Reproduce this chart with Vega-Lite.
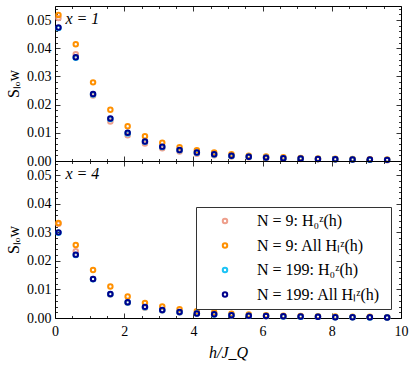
{
"$schema": "https://vega.github.io/schema/vega-lite/v6.json",
"padding": {"left": 5, "top": 5, "right": 5, "bottom": 5},
"spacing": 0,
"bounds": "flush",
"config": {
  "view": {"stroke": "black", "strokeWidth": 1},
  "font": "Liberation Serif",
  "axis": {"grid": false, "domain": false, "tickColor": "black", "tickWidth": 0.8, "labelColor": "black", "labelFont": "Liberation Serif", "labelFontSize": 14, "titleFont": "Liberation Serif", "titleFontWeight": "normal", "titleFontSize": 16, "titleColor": "black", "labelOverlap": false, "labelBound": false, "labelFlush": false}
},
"datasets": {
  "top": [
    {"series": "N = 9:  H₀ᶻ(h)", "h": 0.1, "S": 0.0507}, {"series": "N = 9:  H₀ᶻ(h)", "h": 0.6, "S": 0.0379}, {"series": "N = 9:  H₀ᶻ(h)", "h": 1.1, "S": 0.0232}, {"series": "N = 9:  H₀ᶻ(h)", "h": 1.6, "S": 0.0140}, {"series": "N = 9:  H₀ᶻ(h)", "h": 2.1, "S": 0.0091}, {"series": "N = 9:  H₀ᶻ(h)", "h": 2.6, "S": 0.0062}, {"series": "N = 9:  H₀ᶻ(h)", "h": 3.1, "S": 0.0045}, {"series": "N = 9:  H₀ᶻ(h)", "h": 3.6, "S": 0.0034}, {"series": "N = 9:  H₀ᶻ(h)", "h": 4.1, "S": 0.0026}, {"series": "N = 9:  H₀ᶻ(h)", "h": 4.6, "S": 0.0020},
    {"series": "N = 9:  H₀ᶻ(h)", "h": 5.1, "S": 0.0016}, {"series": "N = 9:  H₀ᶻ(h)", "h": 5.6, "S": 0.0013}, {"series": "N = 9:  H₀ᶻ(h)", "h": 6.1, "S": 0.0010}, {"series": "N = 9:  H₀ᶻ(h)", "h": 6.6, "S": 0.0008}, {"series": "N = 9:  H₀ᶻ(h)", "h": 7.1, "S": 0.0007}, {"series": "N = 9:  H₀ᶻ(h)", "h": 7.6, "S": 0.0006}, {"series": "N = 9:  H₀ᶻ(h)", "h": 8.1, "S": 0.0005}, {"series": "N = 9:  H₀ᶻ(h)", "h": 8.6, "S": 0.0004}, {"series": "N = 9:  H₀ᶻ(h)", "h": 9.1, "S": 0.0004}, {"series": "N = 9:  H₀ᶻ(h)", "h": 9.6, "S": 0.0003},
    {"series": "N = 9:  All Hₗᶻ(h)", "h": 0.1, "S": 0.0518}, {"series": "N = 9:  All Hₗᶻ(h)", "h": 0.6, "S": 0.0414}, {"series": "N = 9:  All Hₗᶻ(h)", "h": 1.1, "S": 0.0279}, {"series": "N = 9:  All Hₗᶻ(h)", "h": 1.6, "S": 0.0182}, {"series": "N = 9:  All Hₗᶻ(h)", "h": 2.1, "S": 0.0123}, {"series": "N = 9:  All Hₗᶻ(h)", "h": 2.6, "S": 0.0088}, {"series": "N = 9:  All Hₗᶻ(h)", "h": 3.1, "S": 0.0065}, {"series": "N = 9:  All Hₗᶻ(h)", "h": 3.6, "S": 0.0049}, {"series": "N = 9:  All Hₗᶻ(h)", "h": 4.1, "S": 0.0038}, {"series": "N = 9:  All Hₗᶻ(h)", "h": 4.6, "S": 0.0030},
    {"series": "N = 9:  All Hₗᶻ(h)", "h": 5.1, "S": 0.0024}, {"series": "N = 9:  All Hₗᶻ(h)", "h": 5.6, "S": 0.0019}, {"series": "N = 9:  All Hₗᶻ(h)", "h": 6.1, "S": 0.0016}, {"series": "N = 9:  All Hₗᶻ(h)", "h": 6.6, "S": 0.0013}, {"series": "N = 9:  All Hₗᶻ(h)", "h": 7.1, "S": 0.0011}, {"series": "N = 9:  All Hₗᶻ(h)", "h": 7.6, "S": 0.0009}, {"series": "N = 9:  All Hₗᶻ(h)", "h": 8.1, "S": 0.0008}, {"series": "N = 9:  All Hₗᶻ(h)", "h": 8.6, "S": 0.0007}, {"series": "N = 9:  All Hₗᶻ(h)", "h": 9.1, "S": 0.0006}, {"series": "N = 9:  All Hₗᶻ(h)", "h": 9.6, "S": 0.0005},
    {"series": "N = 199:  H₀ᶻ(h)", "h": 0.1, "S": 0.0472}, {"series": "N = 199:  H₀ᶻ(h)", "h": 0.6, "S": 0.0366}, {"series": "N = 199:  H₀ᶻ(h)", "h": 1.1, "S": 0.0236}, {"series": "N = 199:  H₀ᶻ(h)", "h": 1.6, "S": 0.0149}, {"series": "N = 199:  H₀ᶻ(h)", "h": 2.1, "S": 0.0098}, {"series": "N = 199:  H₀ᶻ(h)", "h": 2.6, "S": 0.0068}, {"series": "N = 199:  H₀ᶻ(h)", "h": 3.1, "S": 0.0050}, {"series": "N = 199:  H₀ᶻ(h)", "h": 3.6, "S": 0.0038}, {"series": "N = 199:  H₀ᶻ(h)", "h": 4.1, "S": 0.0029}, {"series": "N = 199:  H₀ᶻ(h)", "h": 4.6, "S": 0.0023},
    {"series": "N = 199:  H₀ᶻ(h)", "h": 5.1, "S": 0.0018}, {"series": "N = 199:  H₀ᶻ(h)", "h": 5.6, "S": 0.0015}, {"series": "N = 199:  H₀ᶻ(h)", "h": 6.1, "S": 0.0012}, {"series": "N = 199:  H₀ᶻ(h)", "h": 6.6, "S": 0.0010}, {"series": "N = 199:  H₀ᶻ(h)", "h": 7.1, "S": 0.0008}, {"series": "N = 199:  H₀ᶻ(h)", "h": 7.6, "S": 0.0007}, {"series": "N = 199:  H₀ᶻ(h)", "h": 8.1, "S": 0.0006}, {"series": "N = 199:  H₀ᶻ(h)", "h": 8.6, "S": 0.0005}, {"series": "N = 199:  H₀ᶻ(h)", "h": 9.1, "S": 0.0004}, {"series": "N = 199:  H₀ᶻ(h)", "h": 9.6, "S": 0.0004},
    {"series": "N = 199:  All Hₗᶻ(h)", "h": 0.1, "S": 0.0474}, {"series": "N = 199:  All Hₗᶻ(h)", "h": 0.6, "S": 0.0368}, {"series": "N = 199:  All Hₗᶻ(h)", "h": 1.1, "S": 0.0238}, {"series": "N = 199:  All Hₗᶻ(h)", "h": 1.6, "S": 0.0151}, {"series": "N = 199:  All Hₗᶻ(h)", "h": 2.1, "S": 0.0100}, {"series": "N = 199:  All Hₗᶻ(h)", "h": 2.6, "S": 0.0069}, {"series": "N = 199:  All Hₗᶻ(h)", "h": 3.1, "S": 0.0051}, {"series": "N = 199:  All Hₗᶻ(h)", "h": 3.6, "S": 0.0039}, {"series": "N = 199:  All Hₗᶻ(h)", "h": 4.1, "S": 0.0030}, {"series": "N = 199:  All Hₗᶻ(h)", "h": 4.6, "S": 0.0024},
    {"series": "N = 199:  All Hₗᶻ(h)", "h": 5.1, "S": 0.0019}, {"series": "N = 199:  All Hₗᶻ(h)", "h": 5.6, "S": 0.0015}, {"series": "N = 199:  All Hₗᶻ(h)", "h": 6.1, "S": 0.0012}, {"series": "N = 199:  All Hₗᶻ(h)", "h": 6.6, "S": 0.0010}, {"series": "N = 199:  All Hₗᶻ(h)", "h": 7.1, "S": 0.0009}, {"series": "N = 199:  All Hₗᶻ(h)", "h": 7.6, "S": 0.0007}, {"series": "N = 199:  All Hₗᶻ(h)", "h": 8.1, "S": 0.0006}, {"series": "N = 199:  All Hₗᶻ(h)", "h": 8.6, "S": 0.0005}, {"series": "N = 199:  All Hₗᶻ(h)", "h": 9.1, "S": 0.0005}, {"series": "N = 199:  All Hₗᶻ(h)", "h": 9.6, "S": 0.0004}
  ],
  "bottom": [
    {"series": "N = 9:  H₀ᶻ(h)", "h": 0.1, "S": 0.0330}, {"series": "N = 9:  H₀ᶻ(h)", "h": 0.6, "S": 0.0234}, {"series": "N = 9:  H₀ᶻ(h)", "h": 1.1, "S": 0.0137}, {"series": "N = 9:  H₀ᶻ(h)", "h": 1.6, "S": 0.0082}, {"series": "N = 9:  H₀ᶻ(h)", "h": 2.1, "S": 0.0053}, {"series": "N = 9:  H₀ᶻ(h)", "h": 2.6, "S": 0.0036}, {"series": "N = 9:  H₀ᶻ(h)", "h": 3.1, "S": 0.0026}, {"series": "N = 9:  H₀ᶻ(h)", "h": 3.6, "S": 0.0019}, {"series": "N = 9:  H₀ᶻ(h)", "h": 4.1, "S": 0.0015}, {"series": "N = 9:  H₀ᶻ(h)", "h": 4.6, "S": 0.0012},
    {"series": "N = 9:  H₀ᶻ(h)", "h": 5.1, "S": 0.0009}, {"series": "N = 9:  H₀ᶻ(h)", "h": 5.6, "S": 0.0008}, {"series": "N = 9:  H₀ᶻ(h)", "h": 6.1, "S": 0.0006}, {"series": "N = 9:  H₀ᶻ(h)", "h": 6.6, "S": 0.0005}, {"series": "N = 9:  H₀ᶻ(h)", "h": 7.1, "S": 0.0004}, {"series": "N = 9:  H₀ᶻ(h)", "h": 7.6, "S": 0.0004}, {"series": "N = 9:  H₀ᶻ(h)", "h": 8.1, "S": 0.0003}, {"series": "N = 9:  H₀ᶻ(h)", "h": 8.6, "S": 0.0003}, {"series": "N = 9:  H₀ᶻ(h)", "h": 9.1, "S": 0.0002}, {"series": "N = 9:  H₀ᶻ(h)", "h": 9.6, "S": 0.0002},
    {"series": "N = 9:  All Hₗᶻ(h)", "h": 0.1, "S": 0.0333}, {"series": "N = 9:  All Hₗᶻ(h)", "h": 0.6, "S": 0.0256}, {"series": "N = 9:  All Hₗᶻ(h)", "h": 1.1, "S": 0.0168}, {"series": "N = 9:  All Hₗᶻ(h)", "h": 1.6, "S": 0.0110}, {"series": "N = 9:  All Hₗᶻ(h)", "h": 2.1, "S": 0.0075}, {"series": "N = 9:  All Hₗᶻ(h)", "h": 2.6, "S": 0.0053}, {"series": "N = 9:  All Hₗᶻ(h)", "h": 3.1, "S": 0.0040}, {"series": "N = 9:  All Hₗᶻ(h)", "h": 3.6, "S": 0.0031}, {"series": "N = 9:  All Hₗᶻ(h)", "h": 4.1, "S": 0.0024}, {"series": "N = 9:  All Hₗᶻ(h)", "h": 4.6, "S": 0.0019},
    {"series": "N = 9:  All Hₗᶻ(h)", "h": 5.1, "S": 0.0015}, {"series": "N = 9:  All Hₗᶻ(h)", "h": 5.6, "S": 0.0012}, {"series": "N = 9:  All Hₗᶻ(h)", "h": 6.1, "S": 0.0010}, {"series": "N = 9:  All Hₗᶻ(h)", "h": 6.6, "S": 0.0008}, {"series": "N = 9:  All Hₗᶻ(h)", "h": 7.1, "S": 0.0007}, {"series": "N = 9:  All Hₗᶻ(h)", "h": 7.6, "S": 0.0006}, {"series": "N = 9:  All Hₗᶻ(h)", "h": 8.1, "S": 0.0005}, {"series": "N = 9:  All Hₗᶻ(h)", "h": 8.6, "S": 0.0004}, {"series": "N = 9:  All Hₗᶻ(h)", "h": 9.1, "S": 0.0004}, {"series": "N = 9:  All Hₗᶻ(h)", "h": 9.6, "S": 0.0003},
    {"series": "N = 199:  H₀ᶻ(h)", "h": 0.1, "S": 0.0299}, {"series": "N = 199:  H₀ᶻ(h)", "h": 0.6, "S": 0.0221}, {"series": "N = 199:  H₀ᶻ(h)", "h": 1.1, "S": 0.0136}, {"series": "N = 199:  H₀ᶻ(h)", "h": 1.6, "S": 0.0083}, {"series": "N = 199:  H₀ᶻ(h)", "h": 2.1, "S": 0.0054}, {"series": "N = 199:  H₀ᶻ(h)", "h": 2.6, "S": 0.0038}, {"series": "N = 199:  H₀ᶻ(h)", "h": 3.1, "S": 0.0027}, {"series": "N = 199:  H₀ᶻ(h)", "h": 3.6, "S": 0.0020}, {"series": "N = 199:  H₀ᶻ(h)", "h": 4.1, "S": 0.0016}, {"series": "N = 199:  H₀ᶻ(h)", "h": 4.6, "S": 0.0012},
    {"series": "N = 199:  H₀ᶻ(h)", "h": 5.1, "S": 0.0010}, {"series": "N = 199:  H₀ᶻ(h)", "h": 5.6, "S": 0.0008}, {"series": "N = 199:  H₀ᶻ(h)", "h": 6.1, "S": 0.0007}, {"series": "N = 199:  H₀ᶻ(h)", "h": 6.6, "S": 0.0005}, {"series": "N = 199:  H₀ᶻ(h)", "h": 7.1, "S": 0.0004}, {"series": "N = 199:  H₀ᶻ(h)", "h": 7.6, "S": 0.0004}, {"series": "N = 199:  H₀ᶻ(h)", "h": 8.1, "S": 0.0003}, {"series": "N = 199:  H₀ᶻ(h)", "h": 8.6, "S": 0.0003}, {"series": "N = 199:  H₀ᶻ(h)", "h": 9.1, "S": 0.0002}, {"series": "N = 199:  H₀ᶻ(h)", "h": 9.6, "S": 0.0002},
    {"series": "N = 199:  All Hₗᶻ(h)", "h": 0.1, "S": 0.0300}, {"series": "N = 199:  All Hₗᶻ(h)", "h": 0.6, "S": 0.0222}, {"series": "N = 199:  All Hₗᶻ(h)", "h": 1.1, "S": 0.0137}, {"series": "N = 199:  All Hₗᶻ(h)", "h": 1.6, "S": 0.0084}, {"series": "N = 199:  All Hₗᶻ(h)", "h": 2.1, "S": 0.0055}, {"series": "N = 199:  All Hₗᶻ(h)", "h": 2.6, "S": 0.0039}, {"series": "N = 199:  All Hₗᶻ(h)", "h": 3.1, "S": 0.0028}, {"series": "N = 199:  All Hₗᶻ(h)", "h": 3.6, "S": 0.0021}, {"series": "N = 199:  All Hₗᶻ(h)", "h": 4.1, "S": 0.0016}, {"series": "N = 199:  All Hₗᶻ(h)", "h": 4.6, "S": 0.0013},
    {"series": "N = 199:  All Hₗᶻ(h)", "h": 5.1, "S": 0.0010}, {"series": "N = 199:  All Hₗᶻ(h)", "h": 5.6, "S": 0.0008}, {"series": "N = 199:  All Hₗᶻ(h)", "h": 6.1, "S": 0.0007}, {"series": "N = 199:  All Hₗᶻ(h)", "h": 6.6, "S": 0.0006}, {"series": "N = 199:  All Hₗᶻ(h)", "h": 7.1, "S": 0.0005}, {"series": "N = 199:  All Hₗᶻ(h)", "h": 7.6, "S": 0.0004}, {"series": "N = 199:  All Hₗᶻ(h)", "h": 8.1, "S": 0.0003}, {"series": "N = 199:  All Hₗᶻ(h)", "h": 8.6, "S": 0.0003}, {"series": "N = 199:  All Hₗᶻ(h)", "h": 9.1, "S": 0.0003}, {"series": "N = 199:  All Hₗᶻ(h)", "h": 9.6, "S": 0.0002}
  ]
},
"resolve": {"scale": {"color": "independent"}, "legend": {"color": "independent"}},
"vconcat": [
  {
    "width": 346, "height": 155,
    "data": {"name": "top"},
    "resolve": {"axis": {"x": "independent", "y": "independent"}},
    "layer": [
      {
        "mark": {"type": "point", "filled": false, "strokeWidth": 2, "size": 20, "opacity": 1},
        "encoding": {
          "x": {"field": "h", "type": "quantitative", "scale": {"domain": [0, 10], "nice": false},
                "axis": {"orient": "bottom", "values": [0,0.5,1,1.5,2,2.5,3,3.5,4,4.5,5,5.5,6,6.5,7,7.5,8,8.5,9,9.5,10], "labels": false, "title": null, "minExtent": 0, "maxExtent": 0,
                         "tickSize": {"condition": {"test": "datum.value % 2 === 0", "value": -5}, "value": -2.5}}},
          "y": {"field": "S", "type": "quantitative", "scale": {"domain": [0, 0.055], "nice": false, "zero": true},
                "axis": {"orient": "left", "values": [0,0.002,0.004,0.006,0.008,0.01,0.012,0.014,0.016,0.018,0.02,0.022,0.024,0.026,0.028,0.03,0.032,0.034,0.036,0.038,0.04,0.042,0.044,0.046,0.048,0.05,0.052,0.054],
                         "labelExpr": "abs(datum.value*100 - round(datum.value*100)) < 1e-6 ? format(datum.value, '.2f') : ''",
                         "labelFontSize": {"condition": {"test": "abs(datum.value*100 - round(datum.value*100)) < 1e-6", "value": 14}, "value": 0},
                         "tickSize": {"condition": {"test": "abs(datum.value*100 - round(datum.value*100)) < 1e-6", "value": -5}, "value": -2.5},
                         "labelPadding": 9, "title": "Sₗₒw", "titlePadding": 5}},
          "color": {"field": "series", "type": "nominal", "sort": null,
                    "scale": {"domain": ["N = 9:  H₀ᶻ(h)", "N = 9:  All Hₗᶻ(h)", "N = 199:  H₀ᶻ(h)", "N = 199:  All Hₗᶻ(h)"], "range": ["#ee9f8c", "#ff9000", "#1cc3f5", "#00008b"]},
                    "legend": null}
        }
      },
      {
        "mark": {"type": "point", "opacity": 0},
        "encoding": {
          "x": {"field": "h", "type": "quantitative",
                "axis": {"orient": "top", "values": [0,0.5,1,1.5,2,2.5,3,3.5,4,4.5,5,5.5,6,6.5,7,7.5,8,8.5,9,9.5,10], "labels": false, "title": null, "minExtent": 0, "maxExtent": 0,
                         "tickSize": {"condition": {"test": "datum.value % 2 === 0", "value": -5}, "value": -2.5}}},
          "y": {"field": "S", "type": "quantitative",
                "axis": {"orient": "right", "values": [0,0.002,0.004,0.006,0.008,0.01,0.012,0.014,0.016,0.018,0.02,0.022,0.024,0.026,0.028,0.03,0.032,0.034,0.036,0.038,0.04,0.042,0.044,0.046,0.048,0.05,0.052,0.054], "labels": false, "title": null, "minExtent": 0, "maxExtent": 0,
                         "tickSize": {"condition": {"test": "abs(datum.value*100 - round(datum.value*100)) < 1e-6", "value": -5}, "value": -2.5}}}
        }
      },
      {
        "data": {"values": [{}]},
        "mark": {"type": "text", "font": "Liberation Serif", "fontSize": 16, "fontStyle": "italic", "align": "left", "baseline": "middle", "color": "black"},
        "encoding": {
          "x": {"datum": 0.3, "type": "quantitative", "axis": null},
          "y": {"datum": 0.0505, "type": "quantitative", "axis": null},
          "text": {"value": "x = 1"}
        }
      }
    ]
  },
  {
    "width": 346, "height": 157,
    "data": {"name": "bottom"},
    "resolve": {"axis": {"x": "independent", "y": "independent"}},
    "layer": [
      {
        "mark": {"type": "point", "filled": false, "strokeWidth": 2, "size": 20, "opacity": 1},
        "encoding": {
          "x": {"field": "h", "type": "quantitative", "scale": {"domain": [0, 10], "nice": false},
                "axis": {"orient": "bottom", "values": [0,0.5,1,1.5,2,2.5,3,3.5,4,4.5,5,5.5,6,6.5,7,7.5,8,8.5,9,9.5,10],
                         "labelExpr": "datum.value % 2 === 0 ? format(datum.value, 'd') : ''", "labelPadding": 11,
                         "title": "h/J_Q", "titleFontStyle": "italic", "titlePadding": 4,
                         "tickSize": {"condition": {"test": "datum.value % 2 === 0", "value": -5}, "value": -2.5}}},
          "y": {"field": "S", "type": "quantitative", "scale": {"domain": [0, 0.055], "nice": false, "zero": true},
                "axis": {"orient": "left", "values": [0,0.002,0.004,0.006,0.008,0.01,0.012,0.014,0.016,0.018,0.02,0.022,0.024,0.026,0.028,0.03,0.032,0.034,0.036,0.038,0.04,0.042,0.044,0.046,0.048,0.05,0.052,0.054],
                         "labelExpr": "abs(datum.value*100 - round(datum.value*100)) < 1e-6 ? format(datum.value, '.2f') : ''",
                         "labelFontSize": {"condition": {"test": "abs(datum.value*100 - round(datum.value*100)) < 1e-6", "value": 14}, "value": 0},
                         "tickSize": {"condition": {"test": "abs(datum.value*100 - round(datum.value*100)) < 1e-6", "value": -5}, "value": -2.5},
                         "labelPadding": 9, "title": "Sₗₒw", "titlePadding": 5}},
          "color": {"field": "series", "type": "nominal", "sort": null,
                    "scale": {"domain": ["N = 9:  H₀ᶻ(h)", "N = 9:  All Hₗᶻ(h)", "N = 199:  H₀ᶻ(h)", "N = 199:  All Hₗᶻ(h)"], "range": ["#ee9f8c", "#ff9000", "#1cc3f5", "#00008b"]},
                    "legend": {"orient": "none", "legendX": 141, "legendY": 46, "title": null, "strokeColor": "#333", "fillColor": "white", "padding": 6,
                               "symbolOffset": 15, "labelFont": "Liberation Serif", "labelFontSize": 16, "labelColor": "black", "rowPadding": 8.5, "labelOffset": 24,
                               "symbolSize": 20, "symbolStrokeWidth": 2, "symbolType": "circle", "labelLimit": 300}}
        }
      },
      {
        "mark": {"type": "point", "opacity": 0},
        "encoding": {
          "x": {"field": "h", "type": "quantitative",
                "axis": {"orient": "top", "values": [0,0.5,1,1.5,2,2.5,3,3.5,4,4.5,5,5.5,6,6.5,7,7.5,8,8.5,9,9.5,10], "labels": false, "title": null, "minExtent": 0, "maxExtent": 0,
                         "tickSize": {"condition": {"test": "datum.value % 2 === 0", "value": -5}, "value": -2.5}}},
          "y": {"field": "S", "type": "quantitative",
                "axis": {"orient": "right", "values": [0,0.002,0.004,0.006,0.008,0.01,0.012,0.014,0.016,0.018,0.02,0.022,0.024,0.026,0.028,0.03,0.032,0.034,0.036,0.038,0.04,0.042,0.044,0.046,0.048,0.05,0.052,0.054], "labels": false, "title": null, "minExtent": 0, "maxExtent": 0,
                         "tickSize": {"condition": {"test": "abs(datum.value*100 - round(datum.value*100)) < 1e-6", "value": -5}, "value": -2.5}}}
        }
      },
      {
        "data": {"values": [{}]},
        "mark": {"type": "text", "font": "Liberation Serif", "fontSize": 16, "fontStyle": "italic", "align": "left", "baseline": "middle", "color": "black"},
        "encoding": {
          "x": {"datum": 0.3, "type": "quantitative", "axis": null},
          "y": {"datum": 0.0505, "type": "quantitative", "axis": null},
          "text": {"value": "x = 4"}
        }
      }
    ]
  }
]
}
